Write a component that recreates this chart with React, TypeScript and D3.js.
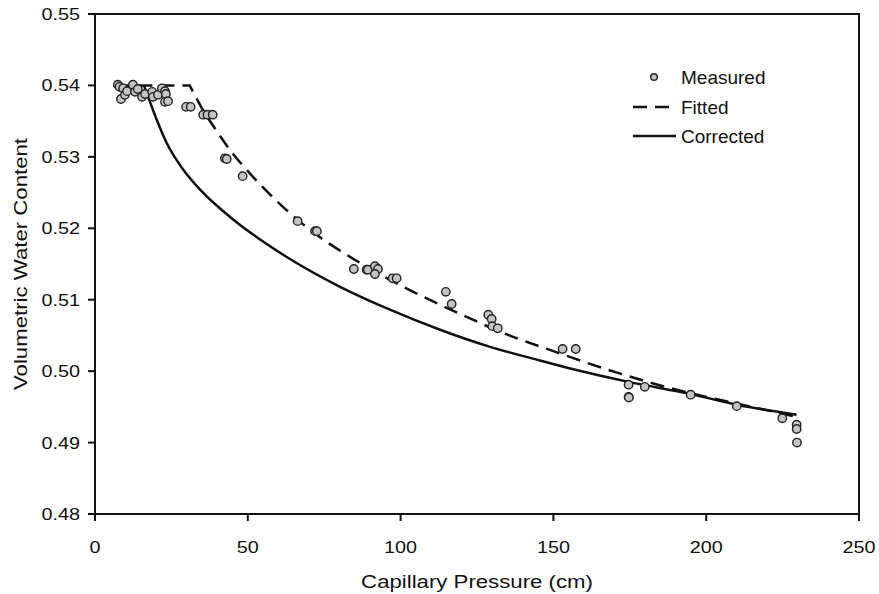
import React from "react";
import * as d3 from "d3";

// measured points (capillary pressure cm, volumetric water content)
const measuredX = [
  7.5, 8.0, 8.5, 9.2, 9.8, 10.5, 12.4, 13.1, 14.0, 15.4, 16.4, 18.7, 19.0, 20.6, 21.9, 22.9, 23.2, 22.9, 23.9,
  29.8, 31.3, 35.4, 36.8, 38.5, 42.5, 43.1, 48.3, 66.3, 72.0, 72.6, 84.7, 88.9, 89.3, 91.6, 92.6, 91.6, 97.4,
  98.7, 114.8, 116.7, 128.7, 129.8, 130.0, 131.8, 153.0, 157.3, 174.6, 174.6, 174.7, 179.9, 194.9, 210.0,
  224.9, 229.6, 229.6, 229.7,
];
const measuredY = [
  0.5401, 0.5398, 0.5381, 0.5396, 0.5387, 0.5392, 0.5401, 0.5391, 0.5395, 0.5384, 0.5388, 0.5391, 0.5384,
  0.5387, 0.5396, 0.5392, 0.5388, 0.5377, 0.5378, 0.537, 0.537, 0.5359, 0.5359, 0.5359, 0.5298, 0.5297,
  0.5273, 0.521, 0.5196, 0.5196, 0.5143, 0.5142, 0.5142, 0.5147, 0.5143, 0.5136, 0.513, 0.513, 0.5111,
  0.5094, 0.5079, 0.5073, 0.5063, 0.506, 0.5031, 0.5031, 0.4981, 0.4964, 0.4963, 0.4978, 0.4967, 0.4951,
  0.4934, 0.4925, 0.4919, 0.49,
];

const fittedX = [7, 31, 35, 40, 45, 50, 60, 70, 85, 100, 120, 135, 150, 170, 185, 200, 215, 229.6];
const fittedY = [
  0.54, 0.54, 0.5368, 0.5335, 0.5305, 0.528, 0.5236, 0.5199, 0.5156, 0.512, 0.5079, 0.5051, 0.5028, 0.4999,
  0.498, 0.4964, 0.495, 0.4936,
];

const correctedX = [16, 18, 20.2, 23.5, 28.9, 34.4, 45.3, 56.2, 63.8, 80.2, 96.5, 112.9, 129.3, 145.6, 162, 174.6, 194.9, 210, 229.6];
const correctedY = [
  0.54, 0.5377, 0.5352, 0.5319, 0.5282, 0.5254, 0.5212, 0.5178, 0.5157, 0.5118, 0.5086, 0.5058, 0.5034,
  0.5015, 0.4997, 0.4985, 0.4968, 0.4953, 0.4939,
];

const xTicks = [0, 50, 100, 150, 200, 250];
const yTicks = [0.48, 0.49, 0.5, 0.51, 0.52, 0.53, 0.54, 0.55];

const font = "'Liberation Sans', Arial, sans-serif";

export default function App() {
  const left = 95, right = 859, top = 14, bottom = 514;
  const x = d3.scaleLinear().domain([0, 250]).range([left, right]);
  const y = d3.scaleLinear().domain([0.48, 0.55]).range([bottom, top]);

  // fitted: flat plateau, then a sharp break into the smooth curve
  const fittedCurve =
    d3
      .line<number>()
      .x((d) => x(fittedX[d]))
      .y((d) => y(fittedY[d]))
      .curve(d3.curveMonotoneX)(fittedX.map((_, i) => i).slice(1)) ?? "";
  const fittedPath = `M${x(fittedX[0])},${y(fittedY[0])}L` + fittedCurve.slice(1);

  const correctedPath =
    d3
      .line<number>()
      .x((d) => x(correctedX[d]))
      .y((d) => y(correctedY[d]))
      .curve(d3.curveMonotoneX)(correctedX.map((_, i) => i)) ?? "";

  return (
    <svg width={879} height={594} style={{ position: "absolute", left: 0, top: 0, background: "#fff" }}>
      <rect x={left} y={top} width={right - left} height={bottom - top} fill="none" stroke="#111" strokeWidth={2} />
      {yTicks.map((t) => (
        <g key={"y" + t}>
          <line x1={left - 7} x2={left} y1={y(t)} y2={y(t)} stroke="#111" strokeWidth={2} />
          <text
            transform={`translate(${left - 15},${y(t) + 6}) scale(1.2,1)`}
            textAnchor="end"
            fontFamily={font}
            fontSize={16.5}
            fill="#111"
          >
            {t.toFixed(2)}
          </text>
        </g>
      ))}
      {xTicks.map((t) => (
        <g key={"x" + t}>
          <line x1={x(t)} x2={x(t)} y1={bottom} y2={bottom + 7} stroke="#111" strokeWidth={2} />
          <text
            transform={`translate(${x(t)},${bottom + 39}) scale(1.2,1)`}
            textAnchor="middle"
            fontFamily={font}
            fontSize={16.5}
            fill="#111"
          >
            {t}
          </text>
        </g>
      ))}
      <text
        transform={`translate(${(left + right) / 2},${bottom + 74}) scale(1.2,1)`}
        textAnchor="middle"
        fontFamily={font}
        fontSize={18.5}
        fill="#111"
      >
        Capillary Pressure (cm)
      </text>
      <text
        transform={`translate(27,${(top + bottom) / 2}) rotate(-90) scale(1.2,1)`}
        textAnchor="middle"
        fontFamily={font}
        fontSize={18.5}
        fill="#111"
      >
        Volumetric Water Content
      </text>

      <path d={correctedPath} fill="none" stroke="#111" strokeWidth={2.5} />
      <path d={fittedPath} fill="none" stroke="#111" strokeWidth={2.5} strokeDasharray="14,8" />

      {measuredX.map((v, i) => (
        <circle key={"m" + i} cx={x(v)} cy={y(measuredY[i])} r={4.2} fill="#c4c4c4" stroke="#222" strokeWidth={1.4} />
      ))}

      <g fontFamily={font} fontSize={19} fill="#111">
        <circle cx={654} cy={77} r={3.3} fill="#c4c4c4" stroke="#222" strokeWidth={1.4} />
        <text x={681} y={84}>Measured</text>
        <line x1={633} x2={676} y1={107} y2={107} stroke="#111" strokeWidth={2.5} strokeDasharray="14,8" />
        <text x={681} y={114}>Fitted</text>
        <line x1={633} x2={676} y1={136} y2={136} stroke="#111" strokeWidth={2.5} />
        <text x={681} y={143}>Corrected</text>
      </g>
    </svg>
  );
}
